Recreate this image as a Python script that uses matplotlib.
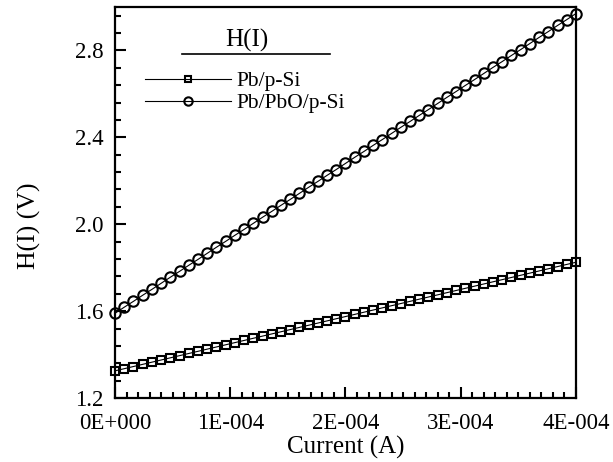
import matplotlib
matplotlib.use('Agg')
import matplotlib.pyplot as plt
from matplotlib.ticker import MultipleLocator, FixedLocator, FixedFormatter
from matplotlib.lines import Line2D

plt.rcParams['font.family'] = ['Liberation Serif', 'DejaVu Serif']

# 전류 (A)
current = [0e-6, 8e-6, 16e-6, 24e-6, 32e-6, 40e-6, 48e-6, 56e-6, 64e-6, 72e-6,
           80e-6, 88e-6, 96e-6, 104e-6, 112e-6, 120e-6, 128e-6, 136e-6, 144e-6, 152e-6,
           160e-6, 168e-6, 176e-6, 184e-6, 192e-6, 200e-6, 208e-6, 216e-6, 224e-6, 232e-6,
           240e-6, 248e-6, 256e-6, 264e-6, 272e-6, 280e-6, 288e-6, 296e-6, 304e-6, 312e-6,
           320e-6, 328e-6, 336e-6, 344e-6, 352e-6, 360e-6, 368e-6, 376e-6, 384e-6, 392e-6,
           400e-6]

# H(I) (V)
h_pb_si = [1.325, 1.335, 1.345, 1.355, 1.365, 1.375, 1.385, 1.395, 1.405, 1.415,
           1.425, 1.435, 1.445, 1.455, 1.465, 1.475, 1.485, 1.495, 1.505, 1.515,
           1.525, 1.535, 1.545, 1.555, 1.565, 1.575, 1.585, 1.595, 1.605, 1.615,
           1.625, 1.635, 1.645, 1.655, 1.665, 1.675, 1.685, 1.695, 1.705, 1.715,
           1.725, 1.735, 1.745, 1.755, 1.765, 1.775, 1.785, 1.795, 1.805, 1.815,
           1.825]
h_pb_pbo_si = [1.590, 1.618, 1.645, 1.673, 1.700, 1.728, 1.756, 1.783, 1.811, 1.838,
               1.866, 1.894, 1.921, 1.949, 1.976, 2.004, 2.032, 2.059, 2.087, 2.114,
               2.142, 2.170, 2.197, 2.225, 2.252, 2.280, 2.308, 2.335, 2.363, 2.390,
               2.418, 2.446, 2.473, 2.501, 2.528, 2.556, 2.584, 2.611, 2.639, 2.666,
               2.694, 2.722, 2.749, 2.777, 2.804, 2.832, 2.860, 2.887, 2.915, 2.942,
               2.970]

x_ticks = [0, 1e-4, 2e-4, 3e-4, 4e-4]
x_tick_labels = ['0E+000', '1E-004', '2E-004', '3E-004', '4E-004']

fig = plt.figure(figsize=(6.13, 4.62), dpi=100)
ax = fig.add_axes([0.1876, 0.1385, 0.752, 0.8463])

ax.plot(current, h_pb_si, color='black', linewidth=0.8, marker='s', markersize=6,
        markerfacecolor='none', markeredgecolor='black', markeredgewidth=1.5,
        label='Pb/p-Si', clip_on=False)
ax.plot(current, h_pb_pbo_si, color='black', linewidth=0.8, marker='o', markersize=7.5,
        markerfacecolor='none', markeredgecolor='black', markeredgewidth=1.5,
        label='Pb/PbO/p-Si', clip_on=False)

ax.set_xlim(0, 4e-4)
ax.set_ylim(1.2, 3.0)
ax.xaxis.set_major_locator(FixedLocator(x_ticks))
ax.xaxis.set_major_formatter(FixedFormatter(x_tick_labels))
ax.xaxis.set_minor_locator(MultipleLocator(1e-5))
ax.yaxis.set_major_locator(MultipleLocator(0.4))
ax.yaxis.set_minor_locator(MultipleLocator(0.08))
ax.yaxis.set_major_formatter(plt.FuncFormatter(lambda v, p: f'{v:.1f}'))

ax.tick_params(which='both', direction='in', top=False, right=False, width=1.5, labelsize=16.5)
ax.tick_params(which='major', length=8)
ax.tick_params(which='minor', length=4)
ax.tick_params(axis='x', pad=11)
ax.tick_params(axis='y', pad=8)
for s in ax.spines.values():
    s.set_linewidth(1.6)

ax.set_xlabel('Current (A)', fontsize=18, labelpad=1)
ax.set_ylabel('H(I) (V)', fontsize=18.5)
ax.yaxis.set_label_coords(-0.16, 0.44)

# 범례
leg = ax.legend(loc='upper left', bbox_to_anchor=(0.065, 0.836), frameon=False,
                fontsize=15.5, handlelength=4.0, handletextpad=0.27, labelspacing=0.1,
                borderaxespad=0, borderpad=0, markerscale=0.8)
ax.text(0.286, 0.914, 'H(I)', transform=ax.transAxes, fontsize=18,
        ha='center', va='center')
ax.add_line(Line2D([0.145, 0.466], [0.880, 0.880], transform=ax.transAxes,
                   color='black', linewidth=1.2))

fig.savefig('out.png', dpi=100)
